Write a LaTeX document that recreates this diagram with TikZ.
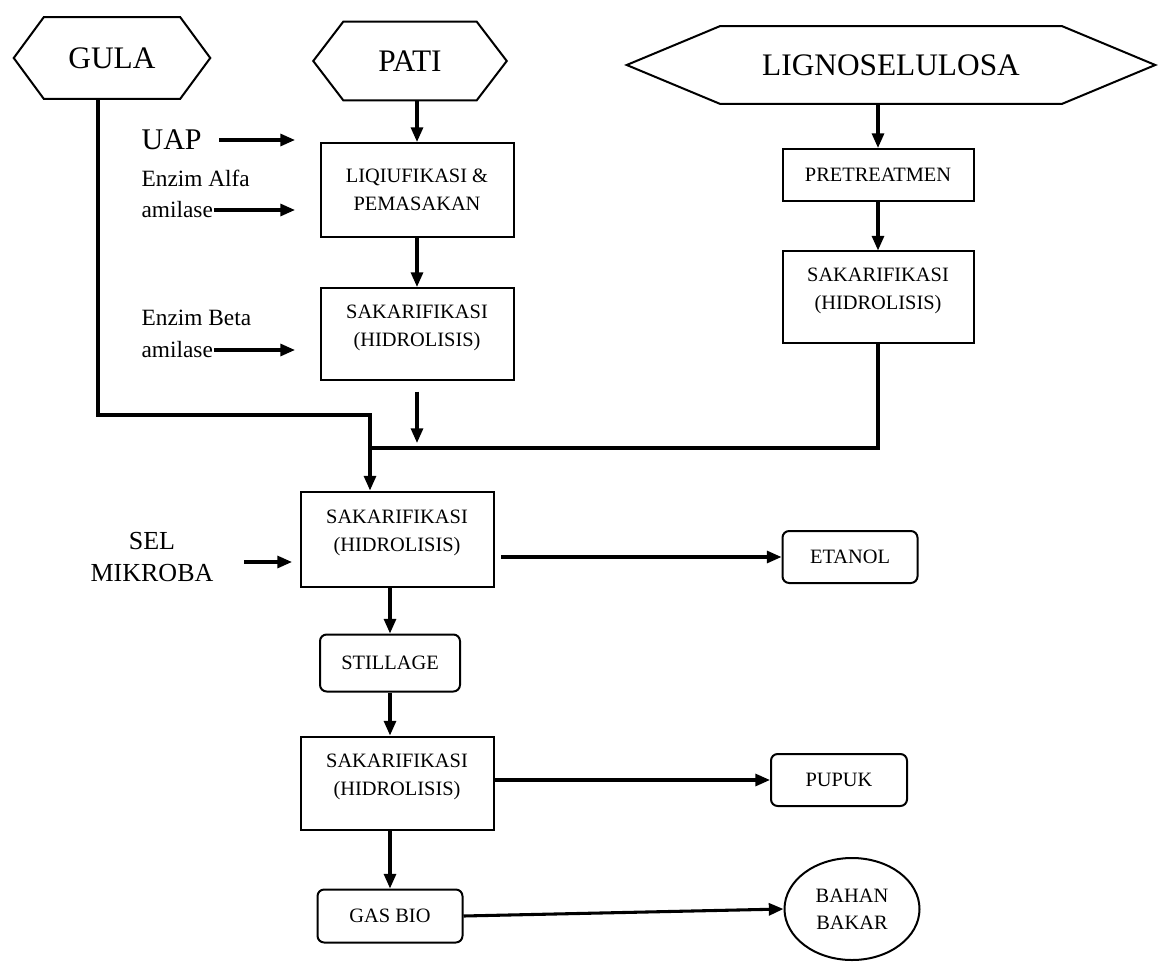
\documentclass[tikz,border=0pt]{standalone}
\usepackage{fontspec}
\setmainfont{Liberation Serif}
\usetikzlibrary{arrows.meta,calc,shapes.geometric}
\newcommand\hexpath[2]{\draw[hexline] (#1.west) -- ([xshift=#2]#1.north west) -- ([xshift=-#2]#1.north east) -- (#1.east) -- ([xshift=-#2]#1.south east) -- ([xshift=#2]#1.south west) -- cycle;}
\begin{document}
\begin{tikzpicture}[x=0.75pt,y=-0.75pt,
  hexnode/.style={inner sep=0pt,font=\fontsize{23.5}{26}\selectfont},
  hexline/.style={draw,line width=1.5pt,line join=miter},
  box/.style={draw,line width=1.5pt,inner sep=2pt,align=center,font=\fontsize{15.3}{21}\selectfont},
  sakbox/.style={box,text depth=12pt},
  rbox/.style={box,rounded corners=5pt},
  lbl/.style={inner sep=1pt,font=\fontsize{17.5}{24}\selectfont},
  conn/.style={line width=2.3pt},
  arr/.style={conn,-{Triangle[length=11pt,width=9pt]}}
]
\useasboundingbox (0,0) rectangle (1159,966);

% sources
\node[hexnode,minimum width=147pt,minimum height=60.75pt] (gula) at (112,58) {GULA};
\hexpath{gula}{22.5pt}
\node[hexnode,minimum width=144.75pt,minimum height=58.5pt] (pati) at (410,61) {PATI};
\hexpath{pati}{22.5pt}
\node[hexnode,minimum width=396pt,minimum height=57.75pt] (ligno) at (891,65) {LIGNOSELULOSA};
\hexpath{ligno}{69.75pt}

% boxes
\node[box,minimum width=144.75pt,minimum height=70.5pt] (liq) at (417,190) {LIQIUFIKASI \&\\PEMASAKAN};
\node[sakbox,minimum width=144.75pt,minimum height=69pt] (sak2) at (417,334) {SAKARIFIKASI\\(HIDROLISIS)};
\node[box,minimum width=143.25pt,minimum height=39pt] (pre) at (878,175) {PRETREATMEN};
\node[sakbox,minimum width=143.25pt,minimum height=68.25pt] (sakR) at (878,297) {SAKARIFIKASI\\(HIDROLISIS)};
\node[sakbox,minimum width=144.75pt,minimum height=71.25pt] (sak3) at (397,539) {SAKARIFIKASI\\(HIDROLISIS)};
\node[rbox,minimum width=101.25pt,minimum height=39pt] (etanol) at (850,557) {ETANOL};
\node[rbox,minimum width=105pt,minimum height=42.75pt] (still) at (390,663) {STILLAGE};
\node[sakbox,minimum width=144.75pt,minimum height=69.75pt] (sak4) at (397,783) {SAKARIFIKASI\\(HIDROLISIS)};
\node[rbox,minimum width=102pt,minimum height=39pt] (pupuk) at (839,780) {PUPUK};
\node[rbox,minimum width=108.75pt,minimum height=39.75pt] (gas) at (390,916) {GAS BIO};
\node[draw,ellipse,line width=1.5pt,inner sep=0pt,minimum width=101.25pt,minimum height=76.5pt,align=center,font=\fontsize{15.3}{20}\selectfont] (bahan) at (852,909) {BAHAN\\BAKAR};

% side inputs
\node[lbl,anchor=west,font=\fontsize{22.5}{26}\selectfont] (uap) at (140,140) {UAP};
\node[lbl,anchor=west] (enzA) at (140,178) {Enzim Alfa};
\node[lbl,anchor=west] (amA) at (140,210) {amilase};
\node[lbl,anchor=west] (enzB) at (140,318) {Enzim Beta};
\node[lbl,anchor=west] (amB) at (140,350) {amilase};
\node[lbl,align=center,font=\fontsize{19.5}{24}\selectfont] (sel) at (152,557) {SEL\\MIKROBA};

\coordinate (uapend) at (295,140);
\coordinate (amAend) at (295,210);
\coordinate (amBend) at (295,350);
\coordinate (selend) at (292,562);
\draw[arr,shorten <=12pt] (uap.east) -- (uapend);
\draw[arr] (amA.east) -- (amAend);
\draw[arr] (amB.east) -- (amBend);
\draw[arr,shorten <=22pt] (sel.east |- selend) -- (selend);

% main flow
\draw[arr] (pati.south -| liq.north) -- (liq.north);
\draw[arr] (liq.south) -- (sak2.north);
\draw[arr] (ligno.south -| pre.north) -- (pre.north);
\draw[arr] (pre.south) -- (sakR.north);

\coordinate (j1) at (370,415);
\coordinate (j2) at (370,448);
\coordinate (s2end) at (417,443);
\draw[arr,line join=miter] ($(gula.south)+(-14,0)$) |- (j1) -- (j1 |- sak3.north);
\draw[conn,line join=miter] (sakR.south) |- (j2);
\draw[arr,shorten <=8pt] (sak2.south) -- (s2end);

\draw[arr,shorten <=5pt] (sak3.east |- etanol) -- (etanol.west);
\draw[arr] (sak3.south -| still.north) -- (still.north);
\draw[arr] (still.south) -- (still.south |- sak4.north);
\draw[arr] (sak4.east |- pupuk) -- (pupuk.west);
\draw[arr] (sak4.south -| gas.north) -- (gas.north);
\draw[arr] (gas.east) -- (bahan.west);
\end{tikzpicture}
\end{document}
